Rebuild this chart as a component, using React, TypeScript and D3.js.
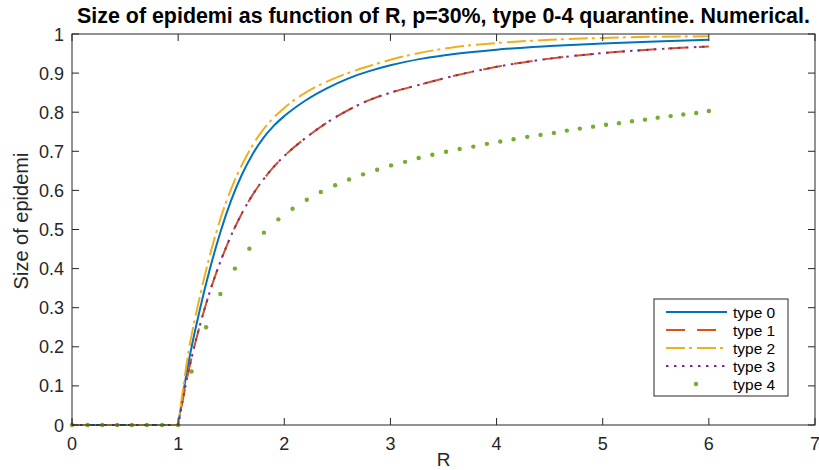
import React from "react";
import * as d3 from "d3";

// chart size and plot box
const width = 819;
const height = 470;
const margin = { top: 34, right: 4, bottom: 45, left: 72 };

// tick values
const xTicks = [0, 1, 2, 3, 4, 5, 6, 7];
const yTicks = [0, 0.1, 0.2, 0.3, 0.4, 0.5, 0.6, 0.7, 0.8, 0.9, 1];

// flat part below threshold (R <= 1)
const rFlat = [0, 1];
const flatValues = [0, 0];

// R grid for the curves above threshold
const rGrid = [1, 1.1, 1.2, 1.3, 1.4, 1.5, 1.6, 1.7, 1.8, 1.9, 2.0, 2.2, 2.4, 2.6, 2.8, 3.0, 3.3, 3.6, 4.0, 4.5, 5.0, 5.5, 6.0];
const type0 = [0, 0.163, 0.29, 0.4, 0.495, 0.575, 0.64, 0.692, 0.733, 0.765, 0.79, 0.83, 0.861, 0.886, 0.905, 0.92, 0.937, 0.949, 0.96, 0.969, 0.976, 0.981, 0.985];
const type1 = [0, 0.14, 0.25, 0.342, 0.419, 0.485, 0.541, 0.588, 0.627, 0.66, 0.688, 0.734, 0.773, 0.805, 0.831, 0.85, 0.872, 0.893, 0.916, 0.937, 0.951, 0.961, 0.968];
const type2 = [0, 0.19, 0.323, 0.435, 0.529, 0.604, 0.665, 0.715, 0.755, 0.786, 0.811, 0.85, 0.878, 0.9, 0.918, 0.934, 0.953, 0.966, 0.977, 0.985, 0.99, 0.993, 0.994];
const type3 = [0, 0.14, 0.25, 0.342, 0.419, 0.485, 0.541, 0.588, 0.627, 0.66, 0.688, 0.734, 0.773, 0.805, 0.831, 0.85, 0.872, 0.893, 0.916, 0.937, 0.951, 0.961, 0.968];

// type 4 is drawn as single dots
const dotR = [0, 0.147, 0.285, 0.426, 0.564, 0.705, 0.849, 1.0, 1.126, 1.263, 1.398, 1.535, 1.671, 1.808, 1.944, 2.078, 2.212, 2.344, 2.479, 2.61, 2.742, 2.875, 3.006, 3.138, 3.266, 3.395, 3.524, 3.652, 3.781, 3.909, 4.035, 4.16, 4.289, 4.414, 4.54, 4.662, 4.784, 4.909, 5.031, 5.153, 5.276, 5.398, 5.518, 5.64, 5.759, 5.881, 6.0];
const dotValues = [0, 0, 0, 0, 0, 0, 0, 0, 0.137, 0.25, 0.335, 0.4, 0.451, 0.492, 0.526, 0.553, 0.576, 0.596, 0.613, 0.628, 0.641, 0.653, 0.664, 0.673, 0.683, 0.691, 0.699, 0.706, 0.712, 0.719, 0.725, 0.731, 0.737, 0.742, 0.747, 0.753, 0.758, 0.763, 0.768, 0.772, 0.777, 0.781, 0.786, 0.79, 0.794, 0.798, 0.803];

const seriesNames = ["type 0", "type 1", "type 2", "type 3", "type 4"];
const colors = ["#0072BD", "#D95319", "#EDB120", "#7E2F8E", "#77AC30"];
const dashes = ["none", "19,12", "19,4,3,5", "2.5,5.5", "none"];

const axisColor = "#262626";
const font = "'Liberation Sans', Arial, Helvetica, sans-serif";

const App = () => {
  const x = d3
    .scaleLinear()
    .domain([0, 7])
    .range([margin.left, width - margin.right]);
  const y = d3
    .scaleLinear()
    .domain([0, 1])
    .range([height - margin.bottom, margin.top]);

  const line = d3
    .line<number>()
    .x((d, i) => x(rGrid[i]))
    .y((d) => y(d))
    .curve(d3.curveMonotoneX);
  const flatLine = d3
    .line<number>()
    .x((d, i) => x(rFlat[i]))
    .y((d) => y(d));

  // flat piece and rising piece joined in one path (sharp kink at R=1)
  const makePath = (vals: number[]) =>
    (flatLine(flatValues) || "") + (line(vals) || "").replace(/^M/, "L");

  const curves = [type0, type1, type2, type3];

  const x0 = margin.left;
  const x1 = width - margin.right;
  const y0 = height - margin.bottom;
  const y1 = margin.top;
  const tick = 7;

  // legend
  const lg = { x: 654, y: 299, w: 134, h: 97, row: 18 };

  return (
    <svg width={width} height={height} style={{ position: "absolute", left: 0, top: 0, background: "#fff" }} fontFamily={font}>
      <rect width={width} height={height} fill="#fff" />

      {/* data */}
      {curves.map((vals, i) => (
        <path
          key={i}
          d={makePath(vals)}
          fill="none"
          stroke={colors[i]}
          strokeWidth={2}
          strokeDasharray={dashes[i]}
        />
      ))}
      {dotR.map((r, i) => (
        <circle key={i} cx={x(r)} cy={y(dotValues[i])} r={2.2} fill={colors[4]} />
      ))}

      {/* axes box */}
      <rect x={x0} y={y1} width={x1 - x0} height={y0 - y1} fill="none" stroke={axisColor} strokeWidth={1} />
      {xTicks.map((t) => (
        <g key={t}>
          <line x1={x(t)} x2={x(t)} y1={y0} y2={y0 - tick} stroke={axisColor} />
          <line x1={x(t)} x2={x(t)} y1={y1} y2={y1 + tick} stroke={axisColor} />
          <text x={x(t)} y={y0 + 25} textAnchor="middle" fontSize={18} fill={axisColor}>
            {t}
          </text>
        </g>
      ))}
      {yTicks.map((t) => (
        <g key={t}>
          <line x1={x0} x2={x0 + tick} y1={y(t)} y2={y(t)} stroke={axisColor} />
          <line x1={x1} x2={x1 - tick} y1={y(t)} y2={y(t)} stroke={axisColor} />
          <text x={x0 - 8} y={y(t) + 6.5} textAnchor="end" fontSize={18} fill={axisColor}>
            {t}
          </text>
        </g>
      ))}

      {/* labels */}
      <text x={(x0 + x1) / 2} y={466} textAnchor="middle" fontSize={19} fill={axisColor}>
        R
      </text>
      <text
        transform={`translate(28,221) rotate(-90)`}
        textAnchor="middle"
        fontSize={20}
        fill={axisColor}
      >
        Size of epidemi
      </text>
      <text x={(x0 + x1) / 2} y={23} textAnchor="middle" fontSize={21.4} fontWeight="bold" fill="#000">
        Size of epidemi as function of R, p=30%, type 0-4 quarantine. Numerical.
      </text>

      {/* legend */}
      <rect x={lg.x} y={lg.y} width={lg.w} height={lg.h} fill="#fff" stroke={axisColor} strokeWidth={1} />
      {seriesNames.map((name, i) => {
        const cy = lg.y + 13 + i * lg.row;
        return (
          <g key={name}>
            {i < 4 ? (
              <line
                x1={lg.x + 12}
                x2={lg.x + 73}
                y1={cy}
                y2={cy}
                stroke={colors[i]}
                strokeWidth={2}
                strokeDasharray={dashes[i]}
              />
            ) : (
              <circle cx={lg.x + 42} cy={cy} r={2.2} fill={colors[i]} />
            )}
            <text x={lg.x + 79} y={cy + 5.5} fontSize={15.5} fill="#000">
              {name}
            </text>
          </g>
        );
      })}
    </svg>
  );
};

export default App;
